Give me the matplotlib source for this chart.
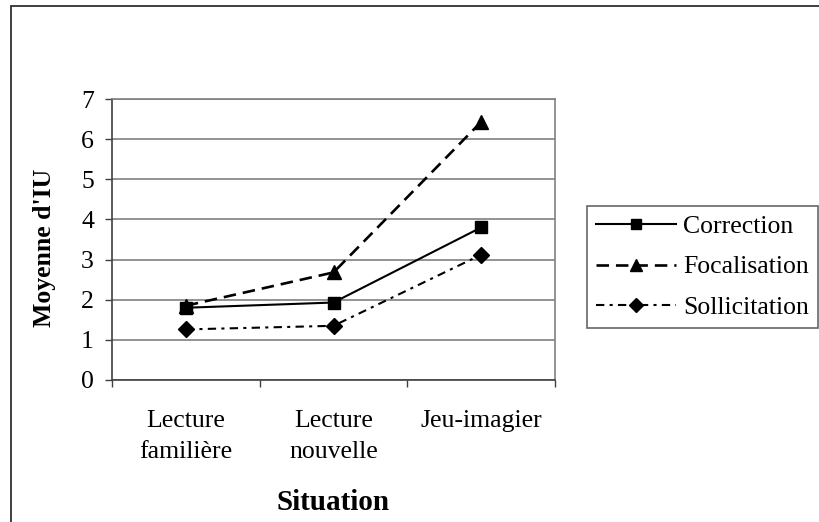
import matplotlib
matplotlib.use("Agg")
import matplotlib.pyplot as plt
from matplotlib.patches import Rectangle

categories = ["Lecture\nfamilière", "Lecture\nnouvelle", "Jeu-imagier"]
correction = [1.80, 1.93, 3.80]
focalisation = [1.85, 2.68, 6.43]
sollicitation = [1.26, 1.35, 3.12]
series_names = ["Correction", "Focalisation", "Sollicitation"]

plt.rcParams['font.family'] = ['Liberation Serif', 'DejaVu Serif']
plt.rcParams['lines.scale_dashes'] = False

fig = plt.figure(figsize=(8.19, 5.22), dpi=100)
W, H = 819, 522
ax = fig.add_axes([112 / W, 1 - 380 / H, (555 - 112) / W, (380 - 99) / H])

x = list(range(len(categories)))
l1, = ax.plot(x, correction, color='black', lw=1.5, marker='s', ms=8.5, label=series_names[0])
l2, = ax.plot(x, focalisation, color='black', lw=1.9, marker='^', ms=10, label=series_names[1])
l2.set_dashes((9.0, 5.0))
l3, = ax.plot(x, sollicitation, color='black', lw=1.5, marker='D', ms=8.5, label=series_names[2])
l3.set_dashes((6.0, 3.8, 2.2, 3.8))

ax.set_xlim(-0.5, 2.5)
ax.set_ylim(0, 7)
ax.set_yticks(range(0, 8))
ax.yaxis.grid(True, color='#808080', lw=1.2)
ax.set_axisbelow(True)

ax.set_xticks(x)
ax.set_xticklabels(categories, fontsize=18.5, linespacing=1.52)
ax.set_xticks([-0.5, 0.5, 1.5, 2.5], minor=True)
ax.tick_params(axis='x', which='major', length=0, pad=21.5)
ax.tick_params(axis='x', which='minor', length=5, width=1, color='#404040', direction='out')
ax.tick_params(axis='y', length=5, width=1, color='#404040', direction='out', labelsize=18.5, pad=8)

for s in ['left', 'bottom']:
    ax.spines[s].set_color('#404040')
    ax.spines[s].set_linewidth(1.2)
for s in ['top', 'right']:
    ax.spines[s].set_color('#808080')
    ax.spines[s].set_linewidth(1.2)

fig.text(45 / W, 1 - 248 / H, "Moyenne d'IU", rotation=90, ha='center', va='center',
         fontsize=18.5, fontweight='bold')
fig.text(333.5 / W, 1 - 503 / H, "Situation", ha='center', va='center',
         fontsize=21, fontweight='bold')

leg = fig.legend(handles=[l1, l2, l3], loc='center left',
                 bbox_to_anchor=(587 / W, 1 - 267 / H), fontsize=18.5,
                 frameon=True, fancybox=False, shadow=False, handlelength=3.1,
                 handletextpad=0.3, labelspacing=0.69, borderpad=0.35,
                 borderaxespad=0.0, markerscale=0.8)
leg.get_frame().set_edgecolor('#404040')
leg.get_frame().set_linewidth(1.2)

fig.patches.append(Rectangle((11 / W, -0.1), 1.2, 1 - 6 / H + 0.1, transform=fig.transFigure,
                             fill=False, edgecolor='#303030', lw=1.3))

fig.savefig("out.png", dpi=100)
